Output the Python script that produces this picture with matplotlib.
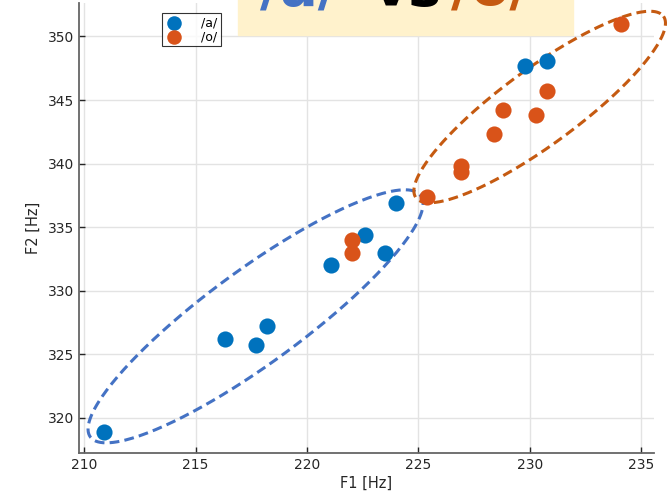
import numpy as np
import matplotlib
matplotlib.use('Agg')
import matplotlib.pyplot as plt
from matplotlib.patches import Rectangle

# %% data
a_f1 = [210.9, 216.3, 217.7, 218.2, 221.1, 222.6, 223.5, 224.0, 229.8, 230.8]
a_f2 = [318.9, 326.2, 325.7, 327.2, 332.0, 334.4, 333.0, 336.9, 347.7, 348.1]

o_f1 = [222.0, 222.0, 225.4, 226.9, 226.9, 228.8, 228.4, 230.3, 230.8, 234.1]
o_f2 = [334.0, 333.0, 337.4, 339.8, 339.3, 344.2, 342.3, 343.8, 345.7, 351.0]

# ellipse: centre, major half-axis vector, minor half-axis vector (data units)
a_centre = [217.69, 327.99]
a_major = [7.42, 9.49]
a_minor = [1.24, -2.99]

o_centre = [230.45, 344.45]
o_major = [5.56, 7.13]
o_minor = [1.00, -2.42]

x_ticks = [210, 215, 220, 225, 230, 235]
y_ticks = [320, 325, 330, 335, 340, 345, 350]

blue = '#0072BD'
orange = '#D95319'
ell_blue = '#4472C4'
ell_orange = '#C55A11'


def ellipse_pts(c, a, b, n=300):
    t = np.linspace(0, 2 * np.pi, n)
    x = c[0] + a[0] * np.cos(t) + b[0] * np.sin(t)
    y = c[1] + a[1] * np.cos(t) + b[1] * np.sin(t)
    return x, y


# %% plot
fig = plt.figure(figsize=(6.67, 4.97), dpi=100)
ax = fig.add_axes([0.1184, 0.0885, 0.862, 0.9055])

ax.scatter(a_f1, a_f2, s=135, color=blue, label='/a/', zorder=3, linewidths=0)
ax.scatter(o_f1, o_f2, s=135, color=orange, label='/o/', zorder=3, linewidths=0)

ex, ey = ellipse_pts(a_centre, a_major, a_minor)
ax.plot(ex, ey, color=ell_blue, linestyle=(0, (3.2, 1.7)), linewidth=2.2, zorder=2)
ex, ey = ellipse_pts(o_centre, o_major, o_minor)
ax.plot(ex, ey, color=ell_orange, linestyle=(0, (3.2, 1.7)), linewidth=2.2,
        zorder=2, clip_on=False)

ax.set_xlim(209.76, 235.58)
ax.set_ylim(317.24, 352.63)
ax.set_xticks(x_ticks)
ax.set_yticks(y_ticks)
ax.grid(True, color='#E3E3E3', linewidth=1)
ax.set_axisbelow(True)
ax.tick_params(direction='in', length=4, labelsize=10, colors='#262626', width=1)
for s in ['top', 'right']:
    ax.spines[s].set_visible(False)
for s in ['left', 'bottom']:
    ax.spines[s].set_color('#666666')
    ax.spines[s].set_linewidth(1.3)

ax.set_xlabel('F1 [Hz]', fontsize=10.5, color='#262626', labelpad=3)
ax.set_ylabel('F2 [Hz]', fontsize=10.5, color='#262626', labelpad=5)

leg = ax.legend(loc='upper left', bbox_to_anchor=(0.1443, 0.978), borderaxespad=0,
                fontsize=9, frameon=True, fancybox=False, edgecolor='black',
                handletextpad=1.4, borderpad=0.25, labelspacing=0.1,
                handlelength=1.5, markerscale=0.9)
leg.get_frame().set_linewidth(0.8)

# title banner, clipped by the top of the figure
fig.patches.append(Rectangle((238 / 667, 1 - 35 / 497), (573 - 238) / 667, 35 / 497 + 0.01,
                             transform=fig.transFigure, color='#FFF2CC', zorder=5))
title_y = 1 - 5 / 497
fig.text(299 / 667, title_y, '/a/', color=ell_blue, fontsize=40, fontweight='bold',
         ha='center', va='baseline', zorder=6)
fig.text(407 / 667, title_y, 'vs', color='black', fontsize=40, fontweight='bold',
         ha='center', va='baseline', zorder=6)
fig.text(490 / 667, title_y, '/o/', color=ell_orange, fontsize=40, fontweight='bold',
         ha='center', va='baseline', zorder=6)

fig.savefig('out.png', dpi=100)
